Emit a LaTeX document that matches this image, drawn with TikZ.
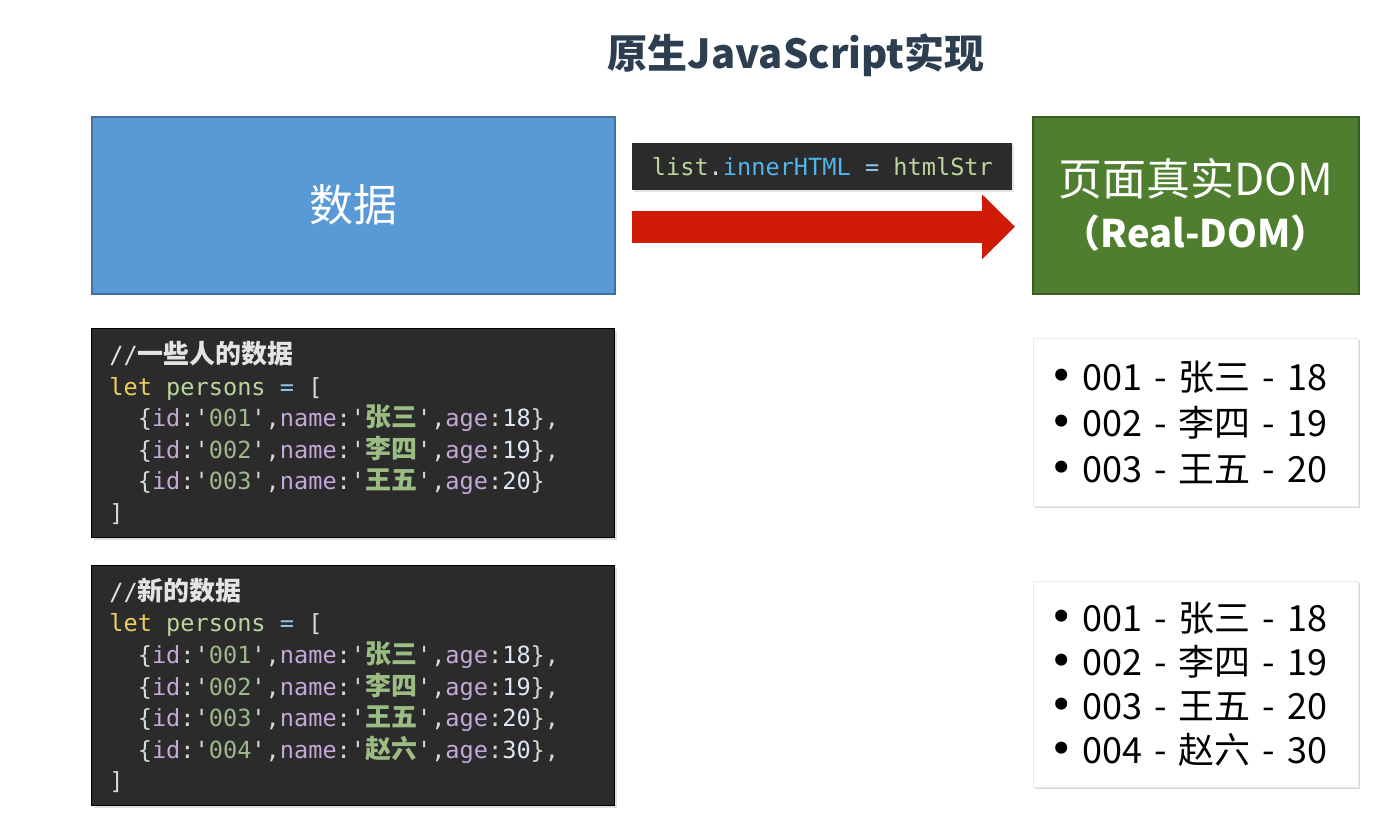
\documentclass[tikz,border=0pt]{standalone}
\usepackage{fontspec}
\setmainfont{Noto Sans CJK SC}
\setmonofont{DejaVu Sans Mono}
\newfontfamily\cjkcode[Scale=1.1]{Noto Sans CJK SC}
\newfontfamily\symfont{DejaVu Sans}
\usepackage{xcolor}
\usetikzlibrary{
	arrows.meta,
	positioning,
	shadows
}

\definecolor{titlecol}{HTML}{2C3E50}
\definecolor{datablue}{HTML}{5899D6}
\definecolor{datadraw}{HTML}{41719C}
\definecolor{domgreen}{HTML}{4F7E2F}
\definecolor{domdraw}{HTML}{3A5C22}
\definecolor{arrowred}{HTML}{CF1A05}
\definecolor{codebg}{HTML}{2B2B2B}
\definecolor{punc}{HTML}{D8D8D8}
\definecolor{cmtc}{HTML}{E4E4E4}
\definecolor{kwc}{HTML}{EDCF5E}
\definecolor{varc}{HTML}{BBD69C}
\definecolor{opc}{HTML}{8EC6F2}
\definecolor{propc}{HTML}{C3A8D9}
\definecolor{strc}{HTML}{9DB98C}
\definecolor{zhc}{HTML}{9BBD84}
\definecolor{numc}{HTML}{DDE8F6}
\definecolor{lblue}{HTML}{4FB6EC}

% code colouring
\newcommand{\kw}[1]{\textcolor{kwc}{#1}}
\newcommand{\vn}[1]{\textcolor{varc}{#1}}
\newcommand{\op}[1]{\textcolor{opc}{#1}}
\newcommand{\pr}[1]{\textcolor{propc}{#1}}
\newcommand{\st}[1]{\textcolor{strc}{#1}}
\newcommand{\zh}[1]{\textcolor{zhc}{\cjkcode\bfseries #1}}
\newcommand{\nm}[1]{\textcolor{numc}{#1}}
\newcommand{\cmt}[1]{\textcolor{cmtc}{//{\cjkcode\bfseries #1}}}
\newcommand{\rec}[4]{\phantom{xx}\{\pr{id}:'\st{#1}',\pr{name}:'\zh{#2}',\pr{age}:\nm{#3}\}#4}
\newcommand{\itm}{\hspace*{1pt}\makebox[16.5pt][l]{\symfont\scalebox{1.15}{•}}}
\newcommand{\fullspace}{\spaceskip=0pt\xspaceskip=0pt\relax}

\begin{document}
\begin{tikzpicture}[
			x=0.5pt, y=-0.5pt,
			>=Stealth,
			bigbox/.style={rectangle,anchor=north west,line width=0.8pt,text=white,
				minimum height=88.5pt,align=center},
			codebox/.style={rectangle,anchor=north west,draw=black,fill=codebg,text=punc,
				font=\ttfamily\fontsize{11.8}{15.8}\selectfont,text width=243.5pt,
				inner xsep=9pt,align=left,
				drop shadow={opacity=0.25,shadow xshift=1.2pt,shadow yshift=-1.2pt}},
			listbox/.style={rectangle,anchor=north west,fill=white,draw=black!8,text=black,
				minimum width=162.5pt,text width=148.5pt,inner xsep=7pt,align=left,
				drop shadow={opacity=0.3,shadow xshift=1pt,shadow yshift=-1pt}},
			bigarrow/.style={draw=arrowred,line width=16pt,
				-{Triangle[length=16.5pt,width=31.5pt]}}
			]
			
			\path[fill=white,use as bounding box] (0,0) rectangle (1384,816);
			
			% Title
			\node[text=titlecol,font=\bfseries\fontsize{20}{24}\selectfont] (title) at (796,55){原生JavaScript实现};
			
			% Top row
			\node[bigbox,draw=datadraw,fill=datablue,minimum width=261.5pt,
				font=\fontsize{22}{26}\selectfont] (data) at (91,116){数据};
			\node[bigbox,draw=domdraw,fill=domgreen,minimum width=163pt,
				font=\fontsize{22}{26}\selectfont] (dom) at (1032,116){页面真实DOM\\{\bfseries\fontsize{19}{26}\selectfont （Real-DOM）}};
			
			\node[rectangle,anchor=north west,fill=codebg,minimum width=190pt,minimum height=23.5pt,
				font=\ttfamily\fontsize{11.8}{14}\selectfont,text=punc,
				drop shadow={opacity=0.2,shadow xshift=1pt,shadow yshift=-1pt}] (assign) at (632,143)
				{\vn{list}.\textcolor{lblue}{innerHTML} \op{=} \vn{htmlStr}};
			
			\draw[bigarrow] ([xshift=8pt,yshift=-10.75pt]data.east) -- ([xshift=-8.5pt,yshift=-10.75pt]dom.west);
			
			% Old data
			\node[codebox,minimum height=104.5pt] (olddata) at (91,328){\fullspace
				\cmt{一些人的数据}\\
				\kw{let} \vn{persons} \op{=} [\\
				\rec{001}{张三}{18}{,}\\
				\rec{002}{李四}{19}{,}\\
				\rec{003}{王五}{20}{}\\
				]};
			
			% New data
			\node[codebox,minimum height=120pt] (newdata) at (91,565){\fullspace
				\cmt{新的数据}\\
				\kw{let} \vn{persons} \op{=} [\\
				\rec{001}{张三}{18}{,}\\
				\rec{002}{李四}{19}{,}\\
				\rec{003}{王五}{20}{,}\\
				\rec{004}{赵六}{30}{,}\\
				]};
			
			% Rendered lists
			\node[listbox,minimum height=84pt,font=\fontsize{18}{23}\selectfont] (oldlist) at (1033,338){
				\itm 001 - 张三 - 18\\
				\itm 002 - 李四 - 19\\
				\itm 003 - 王五 - 20};
			
			\node[listbox,minimum height=103pt,font=\fontsize{18}{22}\selectfont] (newlist) at (1033,581){
				\itm 001 - 张三 - 18\\
				\itm 002 - 李四 - 19\\
				\itm 003 - 王五 - 20\\
				\itm 004 - 赵六 - 30};
			
		\end{tikzpicture}
\end{document}
